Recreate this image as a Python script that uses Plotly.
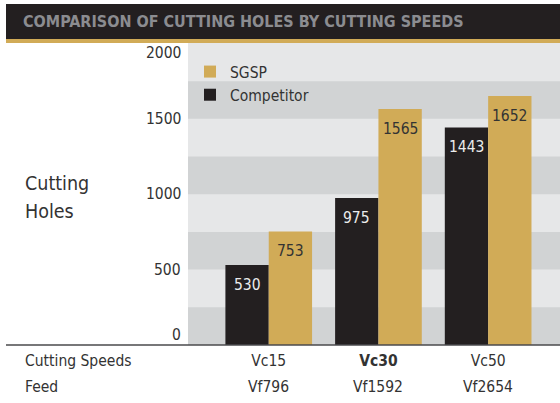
import plotly.graph_objects as go

# ---- data ----
speeds = ["Vc15", "Vc30", "Vc50"]
speed_labels = ["Vc15", "<b>Vc30</b>", "Vc50"]
feeds = ["Vf796", "Vf1592", "Vf2654"]
competitor = [530, 975, 1443]
sgsp = [753, 1565, 1652]
y_ticks = [0, 500, 1000, 1500, 2000]
stripe_edges = [0, 250, 500, 750, 1000, 1250, 1500, 1750, 2000]
y_title_lines = ["Cutting", "Holes"]

# ---- style ----
BLACK = "#231f20"
GOLD = "#d1ab57"
LIGHT = "#e6e7e8"
DARK = "#d1d3d4"
TXT = "#333333"
FONT = "Noto Sans SemiCondensed, DejaVu Sans Condensed, sans-serif"
TFONT = "Noto Sans ExtraCondensed Black, Noto Sans ExtraCondensed, DejaVu Sans Condensed, sans-serif"
BARGAP = 0.21
W, H = 560, 403
ML, MR, MT, MB = 188, 0, 43, 58
PW = W - ML - MR
PH = H - MT - MB
FS = 15.5

def px_x(px):
    return (px - ML) / PW

def px_y(py):
    return (H - MB - py) / PH

x_idx = list(range(len(speeds)))

fig = go.Figure()
fig.add_trace(go.Bar(x=x_idx, y=competitor, name="Competitor", marker_color=BLACK,
                     marker_line_width=0))
fig.add_trace(go.Bar(x=x_idx, y=sgsp, name="SGSP", marker_color=GOLD,
                     marker_line_width=0))

shapes = []
for i in range(0, len(stripe_edges) - 1, 2):
    shapes.append(dict(type="rect", xref="paper", yref="y", x0=0, x1=1,
                       y0=stripe_edges[i], y1=stripe_edges[i + 1],
                       fillcolor=DARK, line_width=0, layer="below"))
shapes.append(dict(type="rect", xref="paper", yref="paper", x0=px_x(6), x1=1,
                   y0=px_y(39), y1=px_y(4), fillcolor=BLACK, line_width=0))
shapes.append(dict(type="rect", xref="paper", yref="paper", x0=px_x(6), x1=1,
                   y0=px_y(43), y1=px_y(39), fillcolor=GOLD, line_width=0))
shapes.append(dict(type="line", xref="paper", yref="paper", x0=px_x(6), x1=1,
                   y0=0, y1=0, line=dict(color="#4a4a4c", width=1.5)))

ann = []
off = (1 - BARGAP) / 4
for i, v in enumerate(competitor):
    ann.append(dict(x=i - off, y=v, xref="x", yref="y", text=str(v), showarrow=False,
                    yshift=-20, font=dict(family=FONT, size=FS, color="#ececec")))
for i, v in enumerate(sgsp):
    ann.append(dict(x=i + off, y=v, xref="x", yref="y", text=str(v), showarrow=False,
                    yshift=-20, font=dict(family=FONT, size=FS, color=TXT)))
tick_shift = {0: 10, 2000: -10}
for t in y_ticks:
    ann.append(dict(x=0, y=t, xref="paper", yref="y", text=str(t), showarrow=False,
                    xanchor="right", yanchor="middle", xshift=-5, yshift=tick_shift.get(t, 0),
                    font=dict(family=FONT, size=FS, color=TXT)))
for i, f in enumerate(feeds):
    ann.append(dict(x=i, y=px_y(386.5), xref="x", yref="paper", text=f, showarrow=False,
                    yanchor="middle", font=dict(family=FONT, size=FS, color=TXT)))
ann.append(dict(x=px_x(23), y=px_y(361), xref="paper", yref="paper", text="Cutting Speeds",
                showarrow=False, xanchor="left", yanchor="middle",
                font=dict(family=FONT, size=FS, color=TXT)))
ann.append(dict(x=px_x(23), y=px_y(386.5), xref="paper", yref="paper", text="Feed",
                showarrow=False, xanchor="left", yanchor="middle",
                font=dict(family=FONT, size=FS, color=TXT)))
for k, line in enumerate(y_title_lines):
    ann.append(dict(x=px_x(23), y=px_y(183 + 28 * k), xref="paper", yref="paper", text=line,
                    showarrow=False, xanchor="left", yanchor="middle",
                    font=dict(family=FONT, size=19.5, color=TXT)))

fig.update_layout(
    width=W, height=H,
    margin=dict(l=ML, r=MR, t=MT, b=MB, pad=0),
    paper_bgcolor="white", plot_bgcolor=LIGHT,
    barmode="group", bargap=BARGAP, bargroupgap=0,
    title=dict(text="COMPARISON OF CUTTING HOLES BY CUTTING SPEEDS",
               xref="container", yref="container", x=23 / W, xanchor="left",
               y=1 - 21 / H, yanchor="middle",
               font=dict(family=TFONT, size=16, color="#8b8c90", weight="bold")),
    xaxis=dict(range=[-0.736, 2.655], tickmode="array", tickvals=x_idx, ticktext=speed_labels,
               showgrid=False, zeroline=False, showline=False, ticks="", ticklen=0,
               ticklabelstandoff=4,
               tickfont=dict(family=FONT, size=FS, color=TXT), fixedrange=True),
    yaxis=dict(range=[0, 2003], showgrid=False, zeroline=False, showline=False,
               showticklabels=False, ticks="", fixedrange=True),
    legend=dict(x=px_x(190), y=px_y(55), xanchor="left", yanchor="top",
                traceorder="reversed", bgcolor="rgba(0,0,0,0)",
                font=dict(family=FONT, size=FS, color=TXT)),
    shapes=shapes, annotations=ann,
)

fig.write_html("out.html", config={"displayModeBar": False},
               post_script="document.body.style.margin='0';document.body.style.overflow='hidden';")
